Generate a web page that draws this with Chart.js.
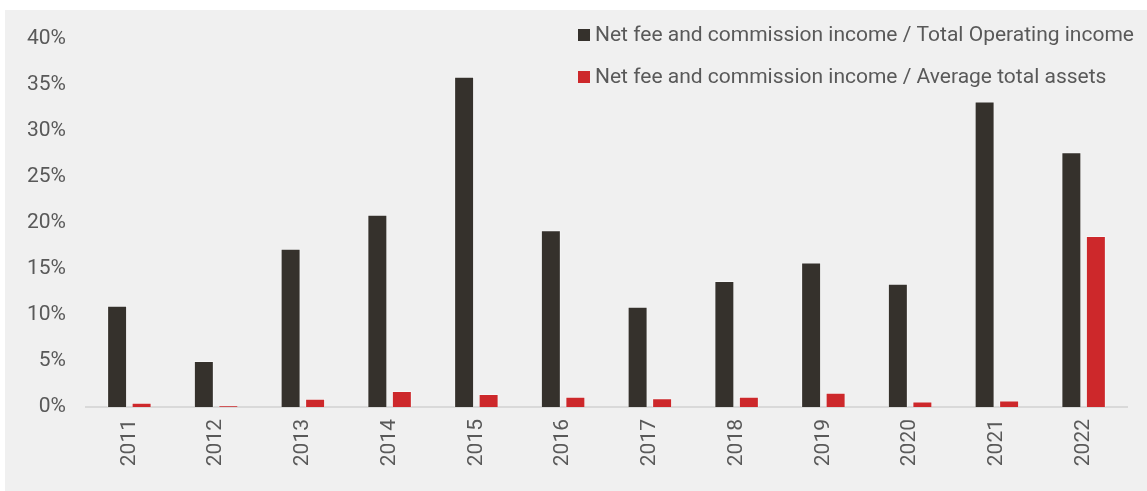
<!DOCTYPE html>
<html lang="en">
  <head>
    <meta charset="UTF-8" />
    <title>Net fee and commission income ratios</title>
    <script src="https://cdn.jsdelivr.net/npm/chart.js"></script>
    <style>
      html,
      body {
        margin: 0;
        padding: 0;
        background: #ffffff;
        font-family: Roboto, Arial, sans-serif;
      }

      .chart-box {
        position: absolute;
        left: 5px;
        top: 10px;
        width: 1142px;
        height: 481px;
        background: #f0f0f0;
      }

      canvas {
        display: block;
      }
    </style>
  </head>
  <body>
    <div class="chart-box">
      <canvas id="feeChart" width="1142" height="481"></canvas>
    </div>

    <script>
      // Years on the x axis
      const years = ["2011", "2012", "2013", "2014", "2015", "2016", "2017", "2018", "2019", "2020", "2021", "2022"];

      // Ratios in percent
      const feeToOperatingIncome = [11.0, 5.0, 17.2, 20.9, 35.9, 19.2, 10.9, 13.7, 15.7, 13.4, 33.2, 27.7];
      const feeToAverageAssets = [0.45, 0.15, 0.9, 1.75, 1.4, 1.1, 0.95, 1.1, 1.55, 0.6, 0.7, 18.6];

      const yTicks = [0, 5, 10, 15, 20, 25, 30, 35, 40];

      const textColor = "#595959";

      // Legend stacked in the top right corner, on top of the plot
      const cornerLegend = {
        id: "cornerLegend",
        afterDraw(chart, args, opts) {
          const ctx = chart.ctx;
          ctx.save();
          ctx.font = opts.font;
          ctx.textBaseline = "middle";
          ctx.textAlign = "left";
          chart.data.datasets.forEach((ds, i) => {
            const y = opts.y + i * opts.rowGap;
            ctx.fillStyle = ds.backgroundColor;
            ctx.fillRect(opts.x, y - opts.box / 2, opts.box, opts.box);
            ctx.fillStyle = textColor;
            ctx.fillText(ds.label, opts.x + opts.box + 5, y + 1);
          });
          ctx.restore();
        },
      };

      const ctxBar = document.getElementById("feeChart").getContext("2d");
      new Chart(ctxBar, {
        type: "bar",
        data: {
          labels: years,
          datasets: [
            {
              label: "Net fee and commission income / Total Operating income",
              data: feeToOperatingIncome,
              backgroundColor: "#35312c",
              borderColor: "rgba(255, 255, 255, 0.4)",
              borderWidth: 1,
              categoryPercentage: 0.565,
              barPercentage: 0.815,
            },
            {
              label: "Net fee and commission income / Average total assets",
              data: feeToAverageAssets,
              backgroundColor: "#cd282b",
              borderColor: "rgba(255, 255, 255, 0.4)",
              borderWidth: 1,
              categoryPercentage: 0.565,
              barPercentage: 0.815,
            },
          ],
        },
        options: {
          responsive: false,
          animation: false,
          layout: {
            padding: { left: 2, right: 20, top: 29, bottom: 12.8 },
          },
          plugins: {
            legend: { display: false },
            tooltip: { enabled: false },
            cornerLegend: {
              x: 573,
              y: 25,
              rowGap: 42,
              box: 12,
              font: "21px Roboto",
            },
          },
          scales: {
            x: {
              grid: { display: false, drawTicks: false },
              border: { display: true, color: "#d9d9d9", width: 2 },
              ticks: {
                color: textColor,
                font: { family: "Roboto", size: 21 },
                minRotation: 90,
                maxRotation: 90,
                padding: 12,
              },
            },
            y: {
              min: 0,
              max: 40,
              afterBuildTicks(axis) {
                axis.ticks = yTicks.map((v) => ({ value: v }));
              },
              grid: { display: false, drawTicks: false },
              border: { display: false },
              ticks: {
                color: textColor,
                // small line height so the top label does not push the plot down
                font: { family: "Roboto", size: 21, lineHeight: 0.8 },
                padding: 20,
                callback: (v) => v + "%",
              },
            },
          },
        },
        plugins: [cornerLegend],
      });
    </script>
  </body>
</html>
